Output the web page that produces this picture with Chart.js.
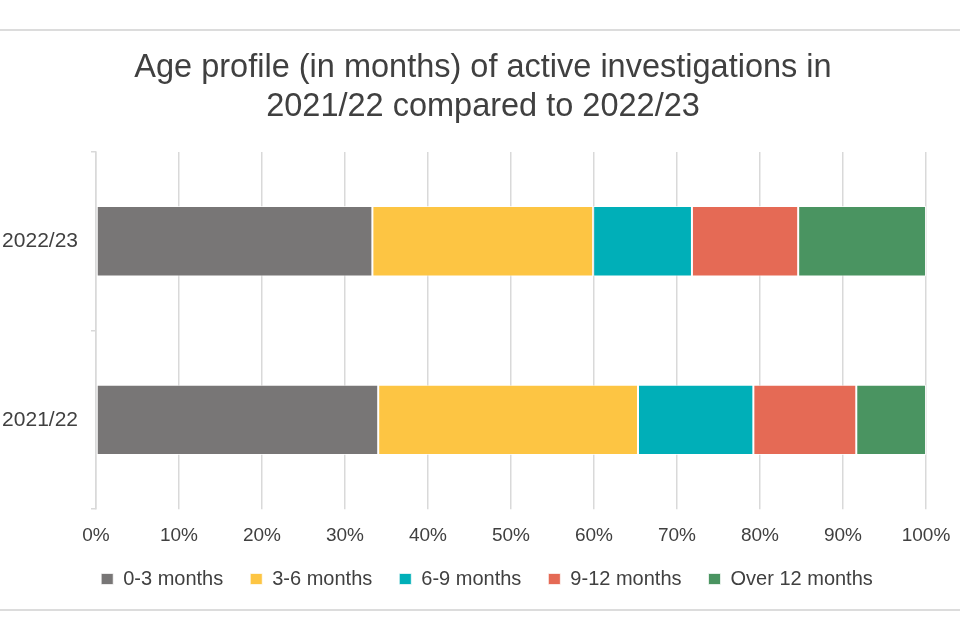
<!DOCTYPE html>
<html>
<head>
<meta charset="utf-8">
<script src="https://cdn.jsdelivr.net/npm/chart.js@4.4.1/dist/chart.umd.min.js"></script>
<style>
    body { margin: 0; background: #ffffff; }
    #wrap { position: relative; width: 960px; height: 640px; }
    .linea { position: absolute; left: 0; width: 960px; height: 2px; background: #dcdcdc; }
</style>
</head>
<body>
<div id="wrap">
    <div class="linea" style="top:29px"></div>
    <div class="linea" style="top:609px"></div>
    <canvas id="graficoEdades" width="960" height="640"></canvas>
</div>
<script>
// datos (porcentajes)
const periodos = ['2022/23', '2021/22'];
const series = ['0-3 months', '3-6 months', '6-9 months', '9-12 months', 'Over 12 months'];
const valores2223 = [33.3, 26.6, 11.9, 12.8, 15.4];
const valores2122 = [34.0, 31.3, 13.9, 12.4, 8.4];
const colores = ['#787676', '#FDC543', '#00AFB8', '#E56A55', '#4A9461'];
const ticksX = ['0%', '10%', '20%', '30%', '40%', '50%', '60%', '70%', '80%', '90%', '100%'];

document.addEventListener("DOMContentLoaded", () => {

    const grafico = document.querySelector("#graficoEdades");
    const fuente = "'Liberation Sans', Arial, sans-serif";

    // corre titulo y leyenda para centrarlos como en el original
    const ajusteBloques = {
        id: 'ajusteBloques',
        afterLayout(chart) {
            chart.titleBlock.left = 40;
            chart.legend.left = 48;
            chart.legend.top -= 20;
        }
    };

    let datasets = [];
    series.forEach((nombre, i) => {
        datasets.push({
            label: nombre,
            data: [valores2223[i], valores2122[i]],
            backgroundColor: colores[i],
            borderColor: 'rgba(255,255,255,0.7)',
            borderWidth: 1,
            borderSkipped: false,
            barPercentage: 0.394,
            categoryPercentage: 1
        });
    });

    new Chart(grafico, {
        type: 'bar',
        data: {
            labels: periodos,
            datasets: datasets
        },
        plugins: [ajusteBloques],
        options: {
            indexAxis: 'y',
            responsive: false,
            animation: false,
            layout: { padding: { top: 0, right: 34, bottom: 21, left: 0 } },
            plugins: {
                title: {
                    display: true,
                    text: ['Age profile (in months) of active investigations in', '2021/22 compared to 2022/23'],
                    color: '#404040',
                    font: { family: fuente, size: 32.5, weight: 'normal', lineHeight: 1.2 },
                    padding: { top: 49, bottom: 25 }
                },
                legend: {
                    position: 'bottom',
                    labels: {
                        color: '#404040',
                        font: { family: fuente, size: 20 },
                        boxWidth: 12,
                        boxHeight: 11,
                        padding: 27
                    }
                },
                tooltip: { enabled: false }
            },
            scales: {
                x: {
                    stacked: true,
                    min: 0,
                    max: 100,
                    ticks: {
                        stepSize: 10,
                        color: '#404040',
                        font: { family: fuente, size: 19 },
                        padding: 15,
                        callback: (v, i) => ticksX[i]
                    },
                    grid: { color: '#d9d9d9', lineWidth: 1.5, tickLength: 0 },
                    border: { display: false },
                    afterFit: (escala) => { escala.paddingRight = 0; escala.paddingLeft = 0; }
                },
                y: {
                    stacked: true,
                    ticks: {
                        color: '#404040',
                        font: { family: fuente, size: 21 },
                        padding: 13
                    },
                    grid: { drawOnChartArea: false, color: '#d9d9d9', lineWidth: 1.5, tickLength: 5, offset: true },
                    border: { display: true, color: '#d9d9d9', width: 1.5 },
                    afterFit: (escala) => { escala.width = 96; }
                }
            }
        }
    });
});
</script>
</body>
</html>
